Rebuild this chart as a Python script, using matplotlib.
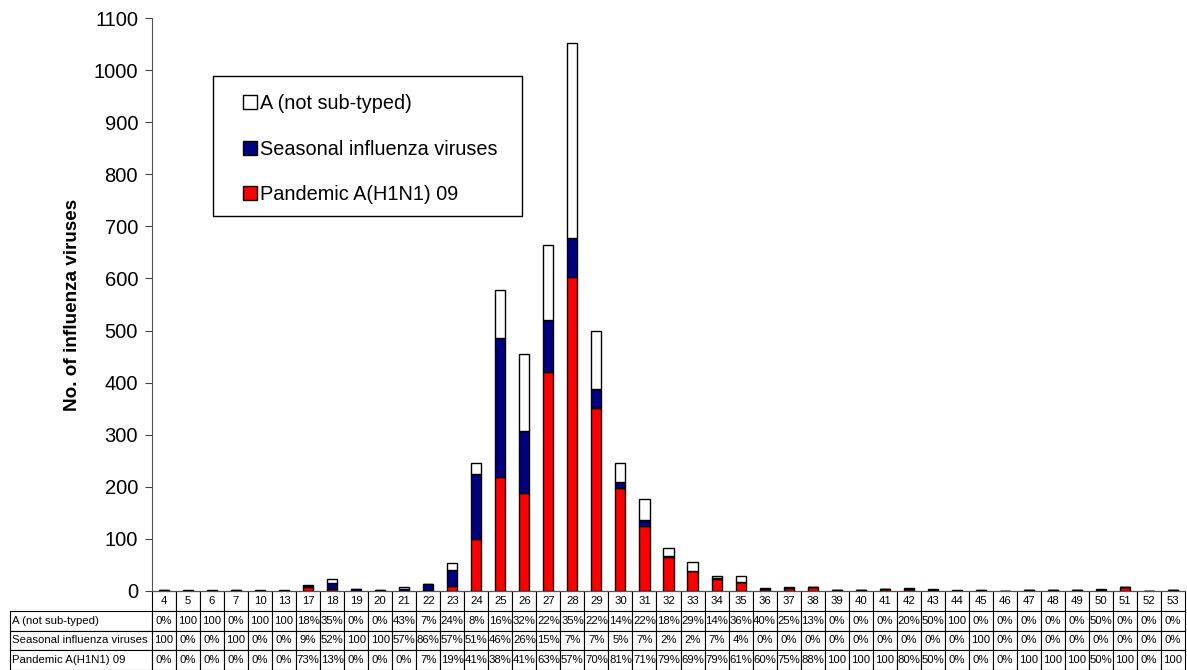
import numpy as np
import matplotlib
matplotlib.use('Agg')
import matplotlib.pyplot as plt
from matplotlib.patches import Rectangle

plt.rcParams['font.family'] = ['Liberation Sans', 'DejaVu Sans']

# weeks shown on the x axis / table header
weeks = ['4', '5', '6', '7', '10', '13', '17', '18', '19', '20', '21', '22', '23',
         '24', '25', '26', '27', '28', '29', '30', '31', '32', '33', '34', '35',
         '36', '37', '38', '39', '40', '41', '42', '43', '44', '45', '46', '47',
         '48', '49', '50', '51', '52', '53']

# number of viruses per week
pandemic = [0, 0, 0, 0, 0, 0, 8, 3, 0, 0, 0, 1, 10, 100, 219, 189, 421, 602, 351,
            198, 125, 65, 38, 23, 17, 3, 6, 7, 1, 1, 3, 4, 2, 0, 0, 0, 1, 2, 1,
            2, 7, 0, 2]
seasonal = [1, 0, 0, 1, 0, 0, 1, 12, 3, 1, 4, 12, 31, 125, 267, 119, 99, 75, 37,
            12, 12, 2, 1, 2, 1, 0, 0, 0, 0, 0, 0, 0, 0, 0, 1, 0, 0, 0, 0, 0, 0,
            0, 0]
not_subtyped = [0, 1, 1, 0, 1, 1, 2, 8, 0, 0, 3, 1, 13, 20, 92, 147, 145, 375,
                112, 35, 39, 15, 16, 4, 10, 2, 2, 1, 0, 0, 0, 1, 2, 1, 0, 0, 0,
                0, 0, 2, 0, 0, 0]

# percentages printed in the table under the chart
pct_not_subtyped = [0, 100, 100, 0, 100, 100, 18, 35, 0, 0, 43, 7, 24, 8, 16, 32,
                    22, 35, 22, 14, 22, 18, 29, 14, 36, 40, 25, 13, 0, 0, 0, 20,
                    50, 100, 0, 0, 0, 0, 0, 50, 0, 0, 0]
pct_seasonal = [100, 0, 0, 100, 0, 0, 9, 52, 100, 100, 57, 86, 57, 51, 46, 26, 15,
                7, 7, 5, 7, 2, 2, 7, 4, 0, 0, 0, 0, 0, 0, 0, 0, 0, 100, 0, 0, 0,
                0, 0, 0, 0, 0]
pct_pandemic = [0, 0, 0, 0, 0, 0, 73, 13, 0, 0, 0, 7, 19, 41, 38, 41, 63, 57, 70,
                81, 71, 79, 69, 79, 61, 60, 75, 88, 100, 100, 100, 80, 50, 0, 0,
                0, 100, 100, 100, 50, 100, 0, 100]

row_names = ['A (not sub-typed)', 'Seasonal influenza viruses', 'Pandemic A(H1N1) 09']


def fmt(v):
    # excel cut "100%" down to "100" in the narrow cells
    return '100' if v == 100 else f'{v}%'


W, H = 1187, 670
fig = plt.figure(figsize=(W / 100, H / 100), dpi=100)
ax = fig.add_axes([152 / W, 79 / H, 1033 / W, 573 / H])

x = np.arange(len(weeks))
bw = 0.42
pan = np.array(pandemic)
sea = np.array(seasonal)
nst = np.array(not_subtyped)

b1 = ax.bar(x, pan, bw, color='#ff0000', edgecolor='black', linewidth=1)
b2 = ax.bar(x, sea, bw, bottom=pan, color='#000080', edgecolor='black', linewidth=1)
b3 = ax.bar(x, nst, bw, bottom=pan + sea, color='white', edgecolor='black', linewidth=1)

ax.set_xlim(-0.5, len(weeks) - 0.5)
ax.set_ylim(0, 1100)
ax.set_yticks(np.arange(0, 1101, 100))
ax.tick_params(axis='y', direction='out', length=5, pad=5, labelsize=14.5,
               color='#444444')
ax.set_xticks([])
for s in ['top', 'right']:
    ax.spines[s].set_visible(False)
ax.spines['left'].set_color('#555555')
ax.spines['bottom'].set_color('#555555')

ax.set_ylabel('No. of influenza viruses', fontsize=13.6, fontweight='bold')
ax.yaxis.set_label_coords(-71 / 1033, 0.5)

# legend box like the excel one: frame drawn separately, wider than the text
leg = ax.legend([b3, b2, b1], row_names, loc='upper left',
                bbox_to_anchor=(243 / W, 1 - 94 / H), bbox_transform=fig.transFigure,
                fontsize=14.3, frameon=False, borderaxespad=0, borderpad=0,
                labelspacing=1.34, handlelength=0.7, handleheight=0.7,
                handletextpad=0.15)
fig.patches.append(Rectangle((213 / W, 1 - 216 / H), 309 / W, 140 / H,
                             transform=fig.transFigure, facecolor='none',
                             edgecolor='black', linewidth=1, zorder=5))

# data table below the axis
cell_text = [
    [row_names[0]] + [fmt(v) for v in pct_not_subtyped],
    [row_names[1]] + [fmt(v) for v in pct_seasonal],
    [row_names[2]] + [fmt(v) for v in pct_pandemic],
]
lab_w = 142 / 1033
col_w = [lab_w] + [1 / len(weeks)] * len(weeks)
tbl = ax.table(cellText=cell_text, colLabels=[''] + weeks, colWidths=col_w,
               cellLoc='center', bbox=[-lab_w, -79 / 573, 1 + lab_w, 79 / 573])
tbl.auto_set_font_size(False)
tbl.set_fontsize(8.2)
for (r, c), cell in tbl.get_celld().items():
    cell.set_linewidth(0.8)
    if c == 0:
        cell.PAD = 0.015
        cell.get_text().set_ha('left')
        cell._loc = 'left'
    if r == 0 and c == 0:
        cell.visible_edges = ''

fig.savefig('out.png', dpi=100)
